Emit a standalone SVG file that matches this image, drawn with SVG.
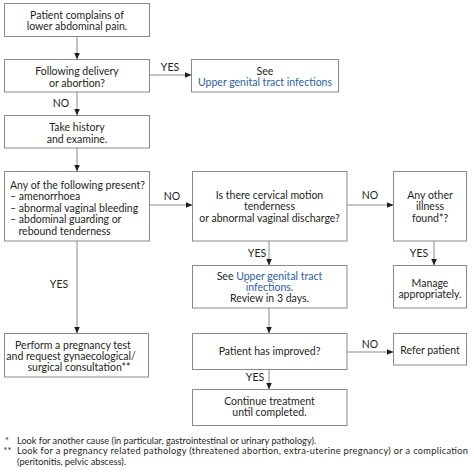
<svg xmlns="http://www.w3.org/2000/svg" width="474" height="473" viewBox="0 0 474 473">
<defs>
<style>
.box{fill:#fff;stroke:#8a8a8a;stroke-width:1}
.t{font-family:Lato,"Liberation Sans",sans-serif;font-size:10.5px;fill:#231f20;text-anchor:middle}
.l{text-anchor:start}
.lbl{font-family:Lato,"Liberation Sans",sans-serif;font-size:10.5px;fill:#231f20;text-anchor:middle}
.lk{fill:#2b61a3}
.fn{font-family:Lato,"Liberation Sans",sans-serif;font-size:9.2px;fill:#231f20}
.c{stroke:#8a8a8a;stroke-width:1;fill:none;marker-end:url(#ah)}
</style>
<marker id="ah" markerWidth="7" markerHeight="6" refX="6.5" refY="3" orient="auto" markerUnits="userSpaceOnUse">
<path d="M0,0 L7,3 L0,6 Z" fill="#231f20"/>
</marker>
</defs>
<rect width="474" height="473" fill="#fff"/>
<g id="connectors">
<line class="c" x1="77" y1="36.5" x2="77" y2="59"/>
<line class="c" x1="150" y1="75" x2="191" y2="75"/>
<line class="c" x1="77" y1="92" x2="77" y2="115"/>
<line class="c" x1="77" y1="148" x2="77" y2="171"/>
<line class="c" x1="150" y1="205" x2="192" y2="205"/>
<line class="c" x1="347" y1="205" x2="393" y2="205"/>
<line class="c" x1="77" y1="241" x2="77" y2="333"/>
<line class="c" x1="269" y1="241" x2="269" y2="265"/>
<line class="c" x1="434" y1="241" x2="434" y2="265"/>
<line class="c" x1="269" y1="308" x2="269" y2="333"/>
<line class="c" x1="347" y1="352" x2="393" y2="352"/>
<line class="c" x1="269" y1="369" x2="269" y2="389"/>
<text class="lbl" x="170" y="71">YES</text>
<text class="lbl" x="61" y="107">NO</text>
<text class="lbl" x="172" y="200">NO</text>
<text class="lbl" x="370" y="199">NO</text>
<text class="lbl" x="59" y="288">YES</text>
<text class="lbl" x="257" y="257">YES</text>
<text class="lbl" x="419" y="257">YES</text>
<text class="lbl" x="370" y="348">NO</text>
<text class="lbl" x="255" y="381">YES</text>
</g>
<g id="n1">
<rect class="box" x="4.5" y="3.5" width="145" height="33"/>
<text class="t" x="77" y="18.5">Patient complains of</text>
<text class="t" x="77" y="30">lower abdominal pain.</text>
</g>
<g id="n2">
<rect class="box" x="4.5" y="59.5" width="145" height="32.5"/>
<text class="t" x="77" y="75">Following delivery</text>
<text class="t" x="77" y="86.5">or abortion?</text>
</g>
<g id="n3">
<rect class="box" x="191.5" y="59.5" width="147" height="32.5"/>
<text class="t" x="265" y="74.5">See</text>
<text class="t lk" x="265" y="86">Upper genital tract infections</text>
</g>
<g id="n4">
<rect class="box" x="4.5" y="115.5" width="145" height="32.5"/>
<text class="t" x="77" y="131">Take history</text>
<text class="t" x="77" y="142.5">and examine.</text>
</g>
<g id="n5">
<rect class="box" x="4.5" y="171.5" width="145" height="69.5"/>
<text class="t l" x="10" y="188.5">Any of the following present?</text>
<text class="t l" x="10" y="200">– amenorrhoea</text>
<text class="t l" x="10" y="211.5">– abnormal vaginal bleeding</text>
<text class="t l" x="10" y="223">– abdominal guarding or</text>
<text class="t l" x="18.5" y="234.5">rebound tenderness</text>
</g>
<g id="n6">
<rect class="box" x="192.5" y="171.5" width="154.5" height="69.5"/>
<text class="t" x="269.5" y="198.5">Is there cervical motion</text>
<text class="t" x="269.5" y="210">tenderness</text>
<text class="t" x="269.5" y="221.5">or abnormal vaginal discharge?</text>
</g>
<g id="n7">
<rect class="box" x="393.5" y="171.5" width="73" height="69.5"/>
<text class="t" x="430" y="198.5">Any other</text>
<text class="t" x="430" y="210">illness</text>
<text class="t" x="430" y="221.5">found*?</text>
</g>
<g id="n8">
<rect class="box" x="393.5" y="265.5" width="73" height="42.5"/>
<text class="t" x="430" y="286.5">Manage</text>
<text class="t" x="430" y="298">appropriately.</text>
</g>
<g id="n9">
<rect class="box" x="192.5" y="265.5" width="154.5" height="42.5"/>
<text class="t" x="269.5" y="279.5">See <tspan class="lk">Upper genital tract</tspan></text>
<text class="t lk" x="269.5" y="290.5">infections.</text>
<text class="t" x="269.5" y="301.5">Review in 3 days.</text>
</g>
<g id="n10">
<rect class="box" x="4.5" y="333.5" width="144" height="43.5"/>
<text class="t" x="73" y="348.5">Perform a pregnancy test</text>
<text class="t" x="71" y="359.5">and request gynaecological/</text>
<text class="t" x="79" y="370.5">surgical consultation**</text>
</g>
<g id="n11">
<rect class="box" x="192.5" y="333.5" width="154.5" height="36"/>
<text class="t" x="269.5" y="354.5">Patient has improved?</text>
</g>
<g id="n12">
<rect class="box" x="393.5" y="333.5" width="73" height="31.5"/>
<text class="t" x="430" y="353.5">Refer patient</text>
</g>
<g id="n13">
<rect class="box" x="192.5" y="389.5" width="154.5" height="36"/>
<text class="t" x="269.5" y="404.5">Continue treatment</text>
<text class="t" x="269.5" y="415.5">until completed.</text>
</g>
<g id="footnotes">
<text class="fn" x="5" y="443.5">*</text>
<text class="fn" x="17" y="443.5">Look for another cause (in particular, gastrointestinal or urinary pathology).</text>
<text class="fn" x="3.5" y="454">**</text>
<text class="fn" x="17" y="454" textLength="451" lengthAdjust="spacing">Look for a pregnancy related pathology (threatened abortion, extra-uterine pregnancy) or a complication</text>
<text class="fn" x="17" y="464.5">(peritonitis, pelvic abscess).</text>
</g>
</svg>
